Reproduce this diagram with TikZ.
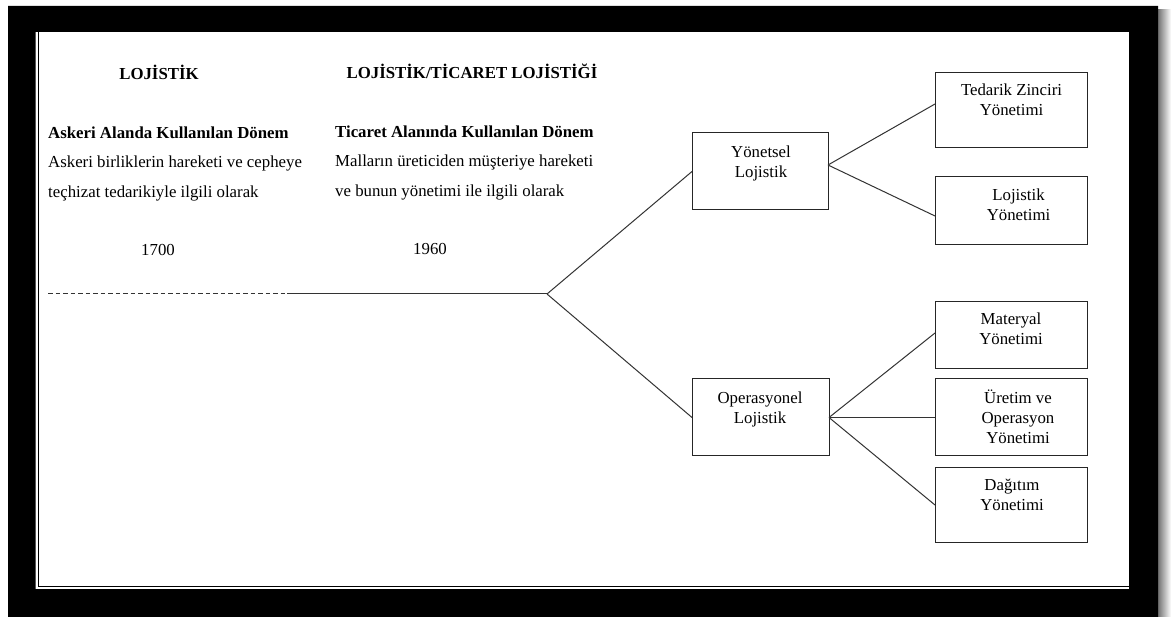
\documentclass[tikz,border=0pt]{standalone}
\usepackage{fontspec}
\setmainfont{Liberation Serif}
\def\firststrut{\rule{0pt}{15pt}}
\begin{document}
\begin{tikzpicture}[x=1pt,y=-1pt,
  box/.style={draw=black!85, line width=1pt, rectangle, inner sep=0pt, outer sep=0pt, fill=white},
  link/.style={draw=black!80, line width=1pt},
  dashlink/.style={link, dash pattern=on 4.5pt off 3pt},
  boxtext/.style={anchor=north, align=center, inner sep=0pt, font=\fontsize{16.8}{20}\selectfont},
  coltext/.style={anchor=north west, align=left, inner sep=0pt, font=\fontsize{16.8}{29.5}\selectfont},
  head/.style={anchor=base, inner sep=0pt, font=\fontsize{16.8}{20}\selectfont\bfseries},
  year/.style={anchor=base, inner sep=0pt, font=\fontsize{16.8}{20}\selectfont},
]
\useasboundingbox (0,0) rectangle (1171,617);
\fill[white] (0,0) rectangle (1171,617);

% drop shadow and black frame
\shade[left color=black!55, right color=white] (1158,10) rectangle (1171,617);
\fill[black, even odd rule] (8,6) rectangle (1158,617) (35.5,32) rectangle (1129,589);
\draw[black, line width=1pt] (38,32) -- (38,586.5) -- (1129,586.5);

% column headings
\node[head] (h1) at (159,80) {LOJİSTİK};
\node[head] (h2) at (472,79) {LOJİSTİK/TİCARET LOJİSTİĞİ};

% column descriptions
\node[coltext] (c1) at (48,123) {\firststrut\textbf{Askeri Alanda Kullanılan Dönem}\\Askeri birliklerin hareketi ve cepheye\\teçhizat tedarikiyle ilgili olarak};
\node[coltext] (c2) at (335,122) {\firststrut\textbf{Ticaret Alanında Kullanılan Dönem}\\Malların üreticiden müşteriye hareketi\\ve bunun yönetimi ile ilgili olarak};

% years
\node[year] (y1) at (158,256) {1700};
\node[year] (y2) at (430,255) {1960};

% boxes
\node[box, minimum width=136pt, minimum height=77pt] (yon) at (760,171.5) {};
\node[box, minimum width=137pt, minimum height=77pt] (ops) at (760.5,417.5) {};
\node[box, minimum width=152pt, minimum height=75pt] (ted) at (1011,110.5) {};
\node[box, minimum width=152pt, minimum height=68pt] (loj) at (1011,211) {};
\node[box, minimum width=152pt, minimum height=67pt] (mat) at (1011,335.5) {};
\node[box, minimum width=152pt, minimum height=77pt] (ure) at (1011,417.5) {};
\node[box, minimum width=152pt, minimum height=75pt] (dag) at (1011,505.5) {};

% box texts
\node[boxtext] (tyon) at (761,142) {\firststrut Yönetsel\\Lojistik};
\node[boxtext] (tops) at (760,388) {\firststrut Operasyonel\\Lojistik};
\node[boxtext] (tted) at (1011.5,80) {\firststrut Tedarik Zinciri\\Yönetimi};
\node[boxtext] (tloj) at (1018.5,185) {\firststrut Lojistik\\Yönetimi};
\node[boxtext] (tmat) at (1011,309) {\firststrut Materyal\\Yönetimi};
\node[boxtext] (ture) at (1018,388) {\firststrut Üretim ve\\Operasyon\\Yönetimi};
\node[boxtext] (tdag) at (1012,475) {\firststrut Dağıtım\\Yönetimi};

% time line and branches
\coordinate (dstart) at (48,294);
\coordinate (dend) at (287,294);
\coordinate (fork) at (547,294);
\draw[dashlink] (dstart) -- (dend);
\draw[link] (dend) -- (fork);
\draw[link] (fork) -- (yon.west);
\draw[link] (fork) -- (ops.west);
\draw[link] ([yshift=6.5pt]yon.east) -- ([yshift=6.5pt]ted.west);
\draw[link] ([yshift=6.5pt]yon.east) -- ([yshift=-5pt]loj.west);
\draw[link] (ops.east) -- ([yshift=2.5pt]mat.west);
\draw[link] (ops.east) -- (ure.west);
\draw[link] (ops.east) -- ([yshift=0.5pt]dag.west);
\end{tikzpicture}
\end{document}
